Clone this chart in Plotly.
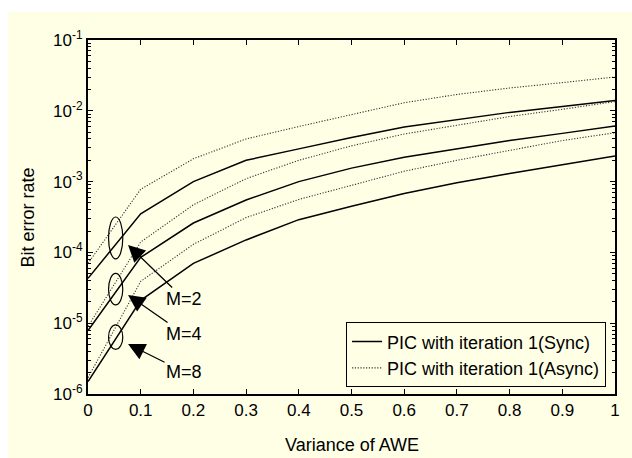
import plotly.graph_objects as go

# ---------------- data ----------------
variance = [0.0, 0.1, 0.2, 0.3, 0.4, 0.5, 0.6, 0.7, 0.8, 0.9, 1.0]

sync_m2 = [4.3e-5, 3.5e-4, 1.0e-3, 2.0e-3, 2.9e-3, 4.2e-3, 5.9e-3, 7.5e-3, 9.5e-3, 1.15e-2, 1.4e-2]
async_m2 = [7.0e-5, 7.8e-4, 2.1e-3, 4.0e-3, 6.0e-3, 8.8e-3, 1.3e-2, 1.7e-2, 2.1e-2, 2.5e-2, 3.0e-2]
sync_m4 = [7.9e-6, 8.5e-5, 2.6e-4, 5.5e-4, 1.0e-3, 1.55e-3, 2.2e-3, 2.9e-3, 3.8e-3, 4.8e-3, 6.1e-3]
async_m4 = [9.0e-6, 1.4e-4, 4.7e-4, 1.1e-3, 2.0e-3, 3.2e-3, 4.7e-3, 6.2e-3, 8.3e-3, 1.05e-2, 1.35e-2]
sync_m8 = [1.5e-6, 2.1e-5, 7.0e-5, 1.5e-4, 2.9e-4, 4.5e-4, 6.8e-4, 9.6e-4, 1.3e-3, 1.75e-3, 2.3e-3]
async_m8 = [1.7e-6, 3.9e-5, 1.3e-4, 3.1e-4, 5.6e-4, 8.9e-4, 1.4e-3, 2.0e-3, 2.75e-3, 3.8e-3, 4.9e-3]

y_tickvals = [1e-6, 1e-5, 1e-4, 1e-3, 1e-2, 1e-1]
y_ticktext = ["10<sup>-6</sup>", "10<sup>-5</sup>", "10<sup>-4</sup>",
              "10<sup>-3</sup>", "10<sup>-2</sup>", "10<sup>-1</sup>"]
x_tickvals = [0, 0.1, 0.2, 0.3, 0.4, 0.5, 0.6, 0.7, 0.8, 0.9, 1.0]
x_ticktext = ["0", "0.1", "0.2", "0.3", "0.4", "0.5", "0.6", "0.7", "0.8", "0.9", "1"]

group_labels = ["M=2", "M=4", "M=8"]

# ---------------- styling ----------------
CREAM = "#FFFFE6"
FONT = "Liberation Sans, Arial, sans-serif"
SOLID = dict(color="black", width=1.5)
DOTTED = dict(color="#333333", width=1.1, dash="1.2px,1.6px")

fig = go.Figure()

series = [
    (sync_m2, SOLID, "PIC with iteration 1(Sync)", True),
    (async_m2, DOTTED, "PIC with iteration 1(Async)", True),
    (sync_m4, SOLID, None, False),
    (async_m4, DOTTED, None, False),
    (sync_m8, SOLID, None, False),
    (async_m8, DOTTED, None, False),
]
for ys, ln, name, show in series:
    fig.add_trace(go.Scatter(x=variance, y=ys, mode="lines", line=ln,
                             name=name, showlegend=show))

# ellipses (data coords; shapes on log axes take raw data values)
ellipses = [
    (0.039, 0.066, 8.1e-5, 3.16e-4),
    (0.039, 0.066, 1.81e-5, 5.07e-5),
    (0.039, 0.066, 4.28e-6, 9.44e-6),
]
for x0, x1, y0, y1 in ellipses:
    fig.add_shape(type="circle", xref="x", yref="y", x0=x0, x1=x1, y0=y0, y1=y1,
                  line=dict(color="black", width=1.2))

# arrows with labels (annotation y on log axis is log10)
arrow_tips = [(0.076, -3.895, 54), (0.076, -4.602, 39), (0.076, -5.294, 28)]
for (xt, yt, ay), lab in zip(arrow_tips, group_labels):
    fig.add_annotation(x=xt, y=yt, xref="x", yref="y", text=lab,
                       showarrow=True, ax=56, ay=ay, axref="pixel", ayref="pixel",
                       arrowhead=2, arrowsize=2.6, arrowwidth=1.3, arrowcolor="black",
                       font=dict(size=18, color="black", family=FONT))

# axis titles
fig.add_annotation(text="Variance of AWE", xref="paper", yref="paper",
                   x=0.5, y=-0.144, xanchor="center", yanchor="middle",
                   showarrow=False, font=dict(size=18, color="black", family=FONT))
fig.add_annotation(text="Bit error rate", xref="paper", yref="paper",
                   x=-0.113, y=0.5, xanchor="center", yanchor="middle", textangle=-90,
                   showarrow=False, font=dict(size=18, color="black", family=FONT))

# white strips outside the cream figure area
fig.add_shape(type="rect", xref="paper", yref="paper", x0=-0.2, x1=1.1,
              y0=(394 - 12) / 354, y1=1.2, fillcolor="white", line_width=0, layer="below")
fig.add_shape(type="rect", xref="paper", yref="paper", x0=-0.2, x1=(7 - 88) / 531,
              y0=-0.3, y1=1.2, fillcolor="white", line_width=0, layer="below")

axis_common = dict(showgrid=False, zeroline=False, showline=True, linecolor="black",
                   linewidth=2, mirror="ticks", ticks="inside", ticklen=5,
                   tickwidth=1, tickcolor="black",
                   tickfont=dict(size=17, color="black", family=FONT))

fig.update_xaxes(range=[0, 1], tickvals=x_tickvals, ticktext=x_ticktext, **axis_common)
fig.update_yaxes(type="log", range=[-6, -1], tickvals=y_tickvals, ticktext=y_ticktext,
                 minor=dict(ticks="inside", ticklen=3, tickwidth=1, tickcolor="black",
                            dtick="D1", showgrid=False),
                 **axis_common)

fig.update_layout(
    width=632, height=458,
    margin=dict(l=88, r=13, t=40, b=64),
    paper_bgcolor=CREAM, plot_bgcolor=CREAM,
    font=dict(family=FONT, color="black"),
    legend=dict(x=0.983, y=0.019, xanchor="right", yanchor="bottom",
                bgcolor=CREAM, bordercolor="black", borderwidth=1,
                font=dict(size=18, color="black", family=FONT)),
)

fig.write_html("out.html")
